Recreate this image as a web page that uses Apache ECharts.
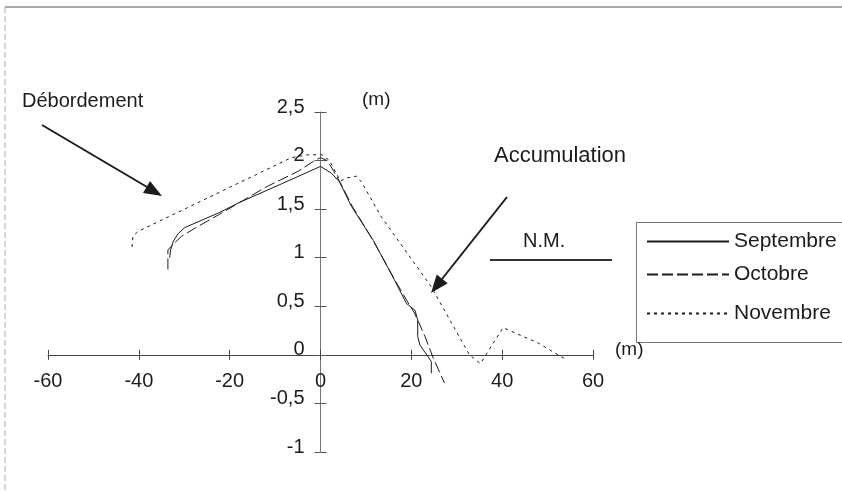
<!DOCTYPE html>
<html>
<head>
<meta charset="utf-8">
<script src="https://cdn.jsdelivr.net/npm/echarts@6/dist/echarts.min.js"></script>
<style>
  html, body { margin: 0; padding: 0; background: #fff; }
  #chart { width: 842px; height: 492px; }
</style>
</head>
<body>
<div id="chart"></div>
<script>
// Profils de plage : distance (m) et altitude (m)
const months = ['Septembre', 'Octobre', 'Novembre'];

const septembreX = [-33.2, -33.0, -32.4, -31.3, -29.9, -22.5, -17.8, -8.6, 0, 2.4, 4.2, 6.8, 11.6, 16.3, 18.9, 20.8, 21.4, 21.4, 21.9, 23.7, 24.4, 24.4];
const septembreY = [1.00, 1.08, 1.17, 1.25, 1.31, 1.46, 1.57, 1.76, 1.94, 1.87, 1.78, 1.53, 1.18, 0.77, 0.53, 0.46, 0.36, 0.19, 0.10, -0.02, -0.07, -0.19];

const octobreX = [-33.6, -33.6, -32.2, -30.6, -27.8, -22.5, -11.9, -4.9, -1.3, 0, 1.5, 2.8, 4.5, 7.0, 11.8, 16.5, 19.5, 20.7, 23.0, 24.8, 27.3];
const octobreY = [0.88, 1.08, 1.15, 1.22, 1.30, 1.44, 1.73, 1.89, 2.00, 2.03, 2.00, 1.90, 1.76, 1.53, 1.16, 0.76, 0.52, 0.43, 0.19, -0.03, -0.29];

const novembreX = [-41.5, -41.3, -40.2, -6.4, -2.7, 0.3, 2.0, 2.9, 4.4, 5.7, 7.9, 9.0, 13.4, 24.4, 32.8, 35.2, 40.2, 48.0, 52.3, 54.2];
const novembreY = [1.11, 1.22, 1.27, 2.03, 2.06, 2.06, 2.00, 1.92, 1.79, 1.82, 1.84, 1.78, 1.42, 0.70, 0.00, -0.09, 0.28, 0.12, 0.00, -0.05];

const xRange = [-60, 60, 20];
const yRange = [-1, 2.5, 0.5];

const zip = (xs, ys) => xs.map((x, i) => [x, ys[i]]);
const profiles = [zip(septembreX, septembreY), zip(octobreX, octobreY), zip(novembreX, novembreY)];
const dashes = ['solid', [11, 4], [3, 4]];

const FONT = '"Liberation Sans", Arial, sans-serif';
const INK = '#1c1c1c';

// Zone de tracé
const G = { left: 48, right: 249, top: 112, bottom: 40 };
const plotW = 842 - G.left - G.right;
const plotH = 492 - G.top - G.bottom;
// Décalages qui amènent chaque axe sur le zéro de l'autre axe
const xAxisOffset = -plotH * (0 - yRange[0]) / (yRange[1] - yRange[0]);
const yAxisOffset = -plotW * (0 - xRange[0]) / (xRange[1] - xRange[0]);

const chart = echarts.init(document.getElementById('chart'), null, { renderer: 'canvas' });

// Deux axes superposés par direction : l'un porte les graduations vers l'extérieur,
// l'autre vers l'intérieur, ce qui donne des graduations croisées.
function xAxisDef(main) {
  return {
    type: 'value', min: xRange[0], max: xRange[1], interval: xRange[2],
    position: 'bottom', offset: xAxisOffset,
    axisLine: { show: main, onZero: false, lineStyle: { color: '#444', width: 1 } },
    axisTick: { show: true, inside: !main, length: 5, lineStyle: { color: '#444', width: 1 } },
    axisLabel: { show: main, color: INK, fontSize: 20, fontFamily: FONT, margin: 17 },
    splitLine: { show: false }
  };
}
function yAxisDef(main) {
  return {
    type: 'value', min: yRange[0], max: yRange[1], interval: yRange[2],
    position: 'left', offset: yAxisOffset,
    axisLine: { show: main, onZero: false, lineStyle: { color: '#777', width: 1 } },
    axisTick: { show: true, inside: !main, length: 6, lineStyle: { color: '#555', width: 1 } },
    axisLabel: {
      show: main, color: INK, fontSize: 20, fontFamily: FONT, margin: 16,
      verticalAlign: 'bottom', lineHeight: 10,
      formatter: v => String(v).replace('.', ',')
    },
    splitLine: { show: false }
  };
}

const legendTops = [226, 259, 298];

chart.setOption({
  animation: false,
  backgroundColor: '#fff',
  grid: { left: G.left, right: G.right, top: G.top, bottom: G.bottom, containLabel: false, outerBoundsMode: 'none' },
  xAxis: [xAxisDef(true), xAxisDef(false)],
  yAxis: [yAxisDef(true), yAxisDef(false)],
  legend: months.map((m, i) => ({
    data: [m],
    orient: 'vertical',
    left: 641, top: legendTops[i],
    itemWidth: 82, itemHeight: 22, itemGap: 4,
    itemStyle: { opacity: 0 },
    textStyle: { color: INK, fontSize: 21, fontFamily: FONT }
  })),
  series: months.map((m, i) => ({
    name: m,
    type: 'line',
    xAxisIndex: 0, yAxisIndex: 0,
    data: profiles[i],
    showSymbol: false, symbol: 'none',
    lineStyle: { color: INK, width: 1, type: dashes[i] },
    itemStyle: { color: INK },
    z: 3
  })),
  graphic: [
    // cadre
    { type: 'line', shape: { x1: 5, y1: 7, x2: 842, y2: 7 }, style: { stroke: '#8c8c8c', lineWidth: 1.5 } },
    { type: 'line', shape: { x1: 5, y1: 7, x2: 5, y2: 492 }, style: { stroke: '#aaa', lineWidth: 1, lineDash: [6, 3] } },
    // cadre de légende
    { type: 'rect', shape: { x: 636.5, y: 222.5, width: 230, height: 120 }, style: { fill: 'none', stroke: '#777', lineWidth: 1 }, z: 0 },
    // unités
    { type: 'text', left: 362, top: 90, style: { text: '(m)', font: '19px ' + FONT, fill: INK } },
    { type: 'text', left: 615, top: 340, style: { text: '(m)', font: '19px ' + FONT, fill: INK } },
    // annotations
    { type: 'text', left: 22, top: 91, style: { text: 'Débordement', font: '20px ' + FONT, fill: INK } },
    { type: 'text', left: 494, top: 145, style: { text: 'Accumulation', font: '22px ' + FONT, fill: INK } },
    { type: 'text', left: 523, top: 231, style: { text: 'N.M.', font: '20px ' + FONT, fill: INK } },
    { type: 'line', shape: { x1: 490, y1: 260, x2: 612, y2: 260 }, style: { stroke: '#333', lineWidth: 2 } },
    // flèches
    { type: 'line', shape: { x1: 42, y1: 125, x2: 147, y2: 187 }, style: { stroke: INK, lineWidth: 2 } },
    { type: 'polygon', shape: { points: [[162, 196], [143, 193], [150, 181]] }, style: { fill: INK } },
    { type: 'line', shape: { x1: 507, y1: 197, x2: 442, y2: 279 }, style: { stroke: INK, lineWidth: 2 } },
    { type: 'polygon', shape: { points: [[431, 293], [436.7, 274.6], [447.7, 283.2]] }, style: { fill: INK } }
  ]
});
</script>
</body>
</html>
